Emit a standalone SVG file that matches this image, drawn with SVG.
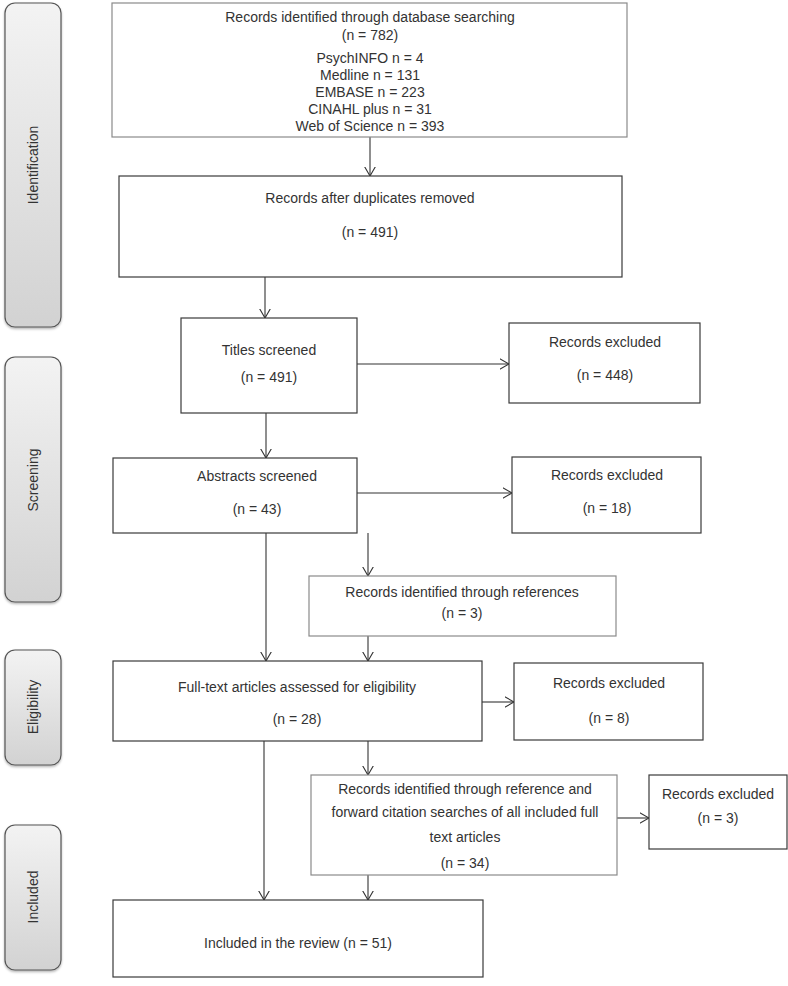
<svg xmlns="http://www.w3.org/2000/svg" width="788" height="986" viewBox="0 0 788 986">
<style>
text{font-family:"Liberation Sans",Arial,sans-serif;font-size:14px;fill:#333;text-anchor:middle}
.box{fill:#fff;stroke:#3a3a3a;stroke-width:1.2}
.lbox{fill:#fff;stroke:#8a8a8a;stroke-width:1.2}
.side{fill:url(#g);stroke:#555;stroke-width:1.2;filter:url(#sh)}
.c line{stroke:#333;stroke-width:1.1;marker-end:url(#a)}
</style>
<defs>
<linearGradient id="g" x1="0" y1="0" x2="0" y2="1">
<stop offset="0" stop-color="#f3f3f3"/>
<stop offset="1" stop-color="#d2d2d2"/>
</linearGradient>
<filter id="sh" x="-20%" y="-10%" width="140%" height="120%">
<feDropShadow dx="0" dy="1.5" stdDeviation="1.2" flood-color="#000" flood-opacity="0.3"/>
</filter>
<marker id="a" viewBox="0 0 10 12" refX="9.5" refY="6" markerWidth="10" markerHeight="12" markerUnits="userSpaceOnUse" orient="auto">
<path d="M0,0.5 L9.5,6 L0,11.5" fill="none" stroke="#333" stroke-width="1.1"/>
</marker>
</defs>
<rect width="788" height="986" fill="#fff"/>

<g id="side-identification"><rect class="side" x="5" y="3" width="56" height="324" rx="10"/><text transform="translate(38,165) rotate(-90)">Identification</text></g>
<g id="side-screening"><rect class="side" x="5" y="357" width="56" height="245" rx="10"/><text transform="translate(38,480) rotate(-90)">Screening</text></g>
<g id="side-eligibility"><rect class="side" x="5" y="650" width="56" height="115" rx="10"/><text transform="translate(38,707) rotate(-90)">Eligibility</text></g>
<g id="side-included"><rect class="side" x="5" y="825" width="56" height="145" rx="10"/><text transform="translate(38,897) rotate(-90)">Included</text></g>

<g class="c" id="connectors">
<line x1="370" y1="137" x2="370" y2="176"/>
<line x1="265" y1="277" x2="265" y2="318"/>
<line x1="357" y1="364" x2="509" y2="364"/>
<line x1="266" y1="413" x2="266" y2="458"/>
<line x1="357" y1="493" x2="512" y2="493"/>
<line x1="368" y1="533" x2="368" y2="576"/>
<line x1="266" y1="533" x2="266" y2="661"/>
<line x1="368" y1="636" x2="368" y2="661"/>
<line x1="482" y1="702" x2="514" y2="702"/>
<line x1="368" y1="741" x2="368" y2="775"/>
<line x1="617" y1="818" x2="649" y2="818"/>
<line x1="264" y1="741" x2="264" y2="900"/>
<line x1="368" y1="875" x2="368" y2="900"/>
</g>

<g id="n-identified"><rect class="lbox" x="112" y="3" width="515" height="134"/>
<text x="370" y="22">Records identified through database searching</text>
<text x="370" y="40">(n = 782)</text>
<text x="370" y="63">PsychINFO n = 4</text>
<text x="370" y="80">Medline n = 131</text>
<text x="370" y="97">EMBASE n = 223</text>
<text x="370" y="114">CINAHL plus n = 31</text>
<text x="370" y="131">Web of Science n = 393</text></g>

<g id="n-dedup"><rect class="box" x="119" y="176" width="503" height="101"/>
<text x="370" y="203">Records after duplicates removed</text>
<text x="370" y="237">(n = 491)</text></g>

<g id="n-titles"><rect class="box" x="181" y="318" width="176" height="95"/>
<text x="269" y="355">Titles screened</text>
<text x="269" y="382">(n = 491)</text></g>

<g id="n-excl448"><rect class="box" x="509" y="323" width="191" height="80"/>
<text x="605" y="347">Records excluded</text>
<text x="605" y="380">(n = 448)</text></g>

<g id="n-abstracts"><rect class="box" x="113" y="458" width="244" height="75"/>
<text x="257" y="481">Abstracts screened</text>
<text x="257" y="514">(n = 43)</text></g>

<g id="n-excl18"><rect class="box" x="512" y="457" width="189" height="76"/>
<text x="607" y="480">Records excluded</text>
<text x="607" y="513">(n = 18)</text></g>

<g id="n-refs"><rect class="lbox" x="309" y="576" width="307" height="60"/>
<text x="462" y="597">Records identified through references</text>
<text x="462" y="618">(n = 3)</text></g>

<g id="n-fulltext"><rect class="box" x="113" y="661" width="369" height="80"/>
<text x="297" y="692">Full-text articles assessed for eligibility</text>
<text x="297" y="724">(n = 28)</text></g>

<g id="n-excl8"><rect class="box" x="514" y="663" width="189" height="77"/>
<text x="609" y="688">Records excluded</text>
<text x="609" y="723">(n = 8)</text></g>

<g id="n-citation"><rect class="lbox" x="311" y="775" width="306" height="100"/>
<text x="465" y="794">Records identified through reference and</text>
<text x="465" y="817">forward citation searches of all included full</text>
<text x="465" y="842">text articles</text>
<text x="465" y="868">(n = 34)</text></g>

<g id="n-excl3"><rect class="box" x="649" y="775" width="138" height="74"/>
<text x="718" y="799">Records excluded</text>
<text x="718" y="823">(n = 3)</text></g>

<g id="n-included"><rect class="box" x="113" y="900" width="370" height="77"/>
<text x="298" y="948">Included in the review (n = 51)</text></g>
</svg>
